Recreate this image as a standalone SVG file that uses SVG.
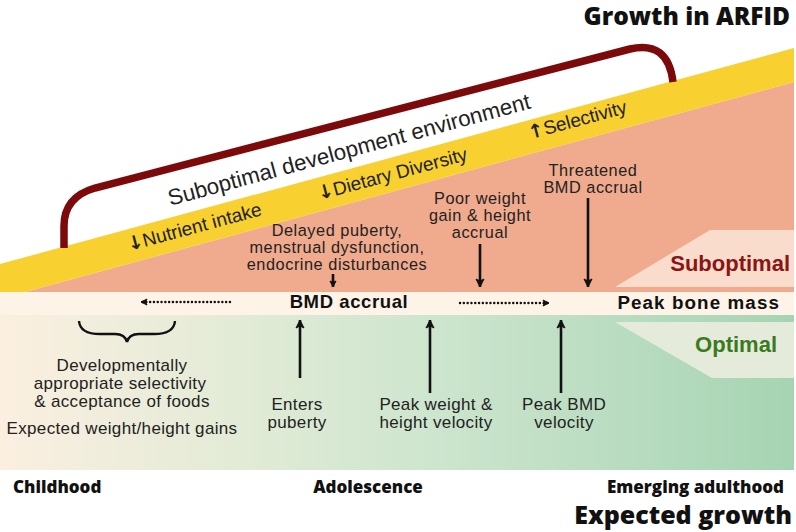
<svg xmlns="http://www.w3.org/2000/svg" width="796" height="532" viewBox="0 0 796 532">
<defs>
<linearGradient id="gGreen" x1="0" y1="0" x2="1" y2="0">
<stop offset="0" stop-color="#fbefe0"/>
<stop offset="0.3" stop-color="#e2ebd6"/>
<stop offset="0.55" stop-color="#cde5ce"/>
<stop offset="1" stop-color="#a6d4b3"/>
</linearGradient>
<marker id="ah" markerUnits="userSpaceOnUse" markerWidth="12" markerHeight="12" refX="9" refY="5" orient="auto">
<path d="M1,1 L9,5 L1,9 L3,5 Z" fill="#111" stroke="#111" stroke-width="1" stroke-linejoin="round"/>
</marker>
<marker id="ahs" markerUnits="userSpaceOnUse" markerWidth="10" markerHeight="10" refX="7" refY="4" orient="auto">
<path d="M1,1 L7,4 L1,7 L2.5,4 Z" fill="#111" stroke="#111" stroke-width="1" stroke-linejoin="round"/>
</marker>
</defs>
<style>
.t{font-family:"Liberation Sans",Arial,sans-serif;fill:#222;}
.c{text-anchor:middle;}
.b{font-weight:bold;}
.s{font-size:16.3px;letter-spacing:0.55px;}
.g{font-size:17px;letter-spacing:0.35px;}
.ar{font-family:"DejaVu Sans",sans-serif;font-weight:bold;}
.h{font-family:"Open Sans","Liberation Sans",sans-serif;font-weight:800;fill:#111;}
.ln{stroke:#111;stroke-width:2.6;fill:none;}
.dot{stroke:#111;stroke-width:2.4;fill:none;stroke-dasharray:0.1 3.7;stroke-linecap:round;}
</style>
<rect width="796" height="532" fill="#ffffff"/>

<g id="background">
<polygon points="25,292 794,82 794,292" fill="#f0aa8d"/>
<polygon points="0,264 794,48 794,82 25,292 0,292" fill="#f8d02f"/>
<rect x="0" y="292" width="794" height="23" fill="#fdf3e7"/>
<rect x="0" y="315" width="794" height="155" fill="url(#gGreen)"/>
</g>

<g id="bracket">
<path d="M64,248 V226 Q64,197 95,188 L630,49 Q668,40 673,82" fill="none" stroke="#7d0a0a" stroke-width="7.5" stroke-linecap="butt"/>
</g>

<g id="title-arfid"><text class="h" x="790" y="25" font-size="24.5" text-anchor="end">Growth in ARFID</text></g>
<g id="title-expected"><text class="h" x="792" y="524" font-size="25" text-anchor="end">Expected growth</text></g>

<g id="env-label"><text class="t c" x="351" y="157" font-size="22.3" transform="rotate(-15.1 351 157)">Suboptimal development environment</text></g>
<g id="nutrient"><text class="t c" x="196" y="233" font-size="19" transform="rotate(-15.1 196 233)"><tspan class="ar">↓</tspan>Nutrient intake</text></g>
<g id="diversity"><text class="t c" x="394" y="180" font-size="19" transform="rotate(-15.1 394 180)"><tspan class="ar">↓</tspan>Dietary Diversity</text></g>
<g id="selectivity"><text class="t c" x="579" y="126" font-size="19" transform="rotate(-15.1 579 126)"><tspan class="ar">↑</tspan>Selectivity</text></g>

<g id="suboptimal-box">
<polygon points="615,287 710,230 794,230 794,287" fill="#f9dccb"/>
<text class="t b" x="790" y="271" font-size="22" text-anchor="end" style="fill:#8b1414">Suboptimal</text>
</g>
<g id="optimal-box">
<polygon points="615,322 794,322 794,378 712,378" fill="#e5ebdb"/>
<text class="t b" x="777" y="352" font-size="22" text-anchor="end" style="fill:#3b7a1f">Optimal</text>
</g>

<g id="delayed">
<text class="t c s" x="337" y="235.5">Delayed puberty,</text>
<text class="t c s" x="337" y="252.5">menstrual dysfunction,</text>
<text class="t c s" x="337" y="269.5">endocrine disturbances</text>
</g>
<g id="poor-weight">
<text class="t c s" x="480" y="203.5">Poor weight</text>
<text class="t c s" x="480" y="220.5">gain &amp; height</text>
<text class="t c s" x="480" y="237.5">accrual</text>
</g>
<g id="threatened">
<text class="t c s" x="593" y="175.5">Threatened</text>
<text class="t c s" x="593" y="192.5">BMD accrual</text>
</g>

<g id="bmd-accrual"><text class="t b c" x="349" y="308" font-size="18.5" letter-spacing="0.6" style="fill:#111">BMD accrual</text></g>
<g id="peak-bone-mass"><text class="t b" x="780" y="309" font-size="18.8" letter-spacing="1.1" text-anchor="end" style="fill:#111">Peak bone mass</text></g>

<g id="childhood-text">
<path d="M79,321 Q80,334 100,334 L115,334 Q125,334 127,342 Q129,334 139,334 L154,334 Q174,334 175,321" fill="none" stroke="#111" stroke-width="2.4"/>
<text class="t c g" x="122" y="371">Developmentally</text>
<text class="t c g" x="120" y="389">appropriate selectivity</text>
<text class="t c g" x="122" y="407">&amp; acceptance of foods</text>
<text class="t c g" x="122" y="434">Expected weight/height gains</text>
</g>
<g id="enters-puberty">
<text class="t c g" x="297" y="409.5">Enters</text>
<text class="t c g" x="297" y="427.5">puberty</text>
</g>
<g id="peak-weight">
<text class="t c g" x="436" y="409.5">Peak weight &amp;</text>
<text class="t c g" x="436" y="427.5">height velocity</text>
</g>
<g id="peak-bmd">
<text class="t c g" x="564" y="409.5">Peak BMD</text>
<text class="t c g" x="564" y="427.5">velocity</text>
</g>

<g id="stages">
<text class="h" x="13" y="493" font-size="17">Childhood</text>
<text class="h" x="368" y="493" font-size="17" text-anchor="middle">Adolescence</text>
<text class="h" x="784" y="493" font-size="17" text-anchor="end">Emerging adulthood</text>
</g>

<g id="connectors">
<line class="ln" x1="333" y1="274" x2="333" y2="287" marker-end="url(#ahs)"/>
<line class="ln" x1="480" y1="244" x2="480" y2="287" marker-end="url(#ah)"/>
<line class="ln" x1="588" y1="198" x2="588" y2="287" marker-end="url(#ah)"/>
<line class="ln" x1="300" y1="378" x2="300" y2="320" marker-end="url(#ah)"/>
<line class="ln" x1="430" y1="393" x2="430" y2="320" marker-end="url(#ah)"/>
<line class="ln" x1="561" y1="393" x2="561" y2="320" marker-end="url(#ah)"/>
<line class="dot" x1="230" y1="302" x2="141" y2="302" marker-end="url(#ahs)"/>
<line class="dot" x1="460" y1="303" x2="549" y2="303" marker-end="url(#ahs)"/>
</g>
</svg>
